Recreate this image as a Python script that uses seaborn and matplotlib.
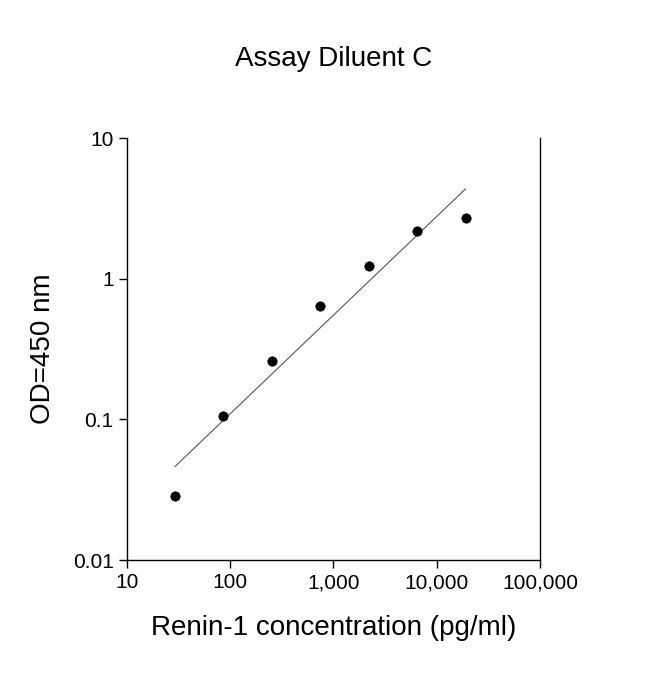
import numpy as np
import matplotlib
matplotlib.use("Agg")
import matplotlib.pyplot as plt
import seaborn as sns
from matplotlib.ticker import FixedLocator, NullLocator

sns.set_style("white")
plt.rcParams['font.family'] = ['Liberation Sans', 'DejaVu Sans']
plt.rcParams['text.color'] = 'black'
plt.rcParams['axes.labelcolor'] = 'black'
plt.rcParams['xtick.color'] = 'black'
plt.rcParams['ytick.color'] = 'black'

conc = [29.2, 85, 253, 740, 2200, 6500, 19000]
od = [0.0285, 0.106, 0.26, 0.64, 1.23, 2.18, 2.7]
xticks = [10, 100, 1000, 10000, 100000]
xticklabels = ["10", "100", "1,000", "10,000", "100,000"]
yticks = [0.01, 0.1, 1, 10]
yticklabels = ["0.01", "0.1", "1", "10"]

fig = plt.figure(figsize=(6.5, 6.74), dpi=100)
ax = fig.add_axes([0.195, 0.169, 0.636, 0.626])

lx, ly = np.log10(conc), np.log10(od)
b, a = np.polyfit(lx, ly, 1)
fx = np.array([conc[0], conc[-1]])
fy = 10 ** (a + b * np.log10(fx))
sns.lineplot(x=fx, y=fy, ax=ax, color="#555555", lw=0.8)
sns.scatterplot(x=conc, y=od, ax=ax, color="black", s=45, edgecolor="black", zorder=3)

ax.set_xscale("log"); ax.set_yscale("log")
ax.set_xlim(10, 100000); ax.set_ylim(0.01, 10)
ax.xaxis.set_major_locator(FixedLocator(xticks)); ax.xaxis.set_minor_locator(NullLocator())
ax.yaxis.set_major_locator(FixedLocator(yticks)); ax.yaxis.set_minor_locator(NullLocator())
ax.set_xticklabels(xticklabels, fontsize=15)
ax.set_yticklabels(yticklabels, fontsize=15)
ax.tick_params(direction="out", length=6, width=1, color="black", bottom=True, left=True)
for s in ["left", "bottom", "right"]:
    ax.spines[s].set_color("black"); ax.spines[s].set_linewidth(1)
ax.spines["top"].set_visible(False)
ax.set_xlabel("Renin-1 concentration (pg/ml)", fontsize=20, labelpad=16)
ax.set_ylabel("OD=450 nm", fontsize=20, labelpad=12)
fig.text(0.513, 0.912, "Assay Diluent C", ha="center", va="center", fontsize=20)
fig.savefig("out.png", dpi=100)
